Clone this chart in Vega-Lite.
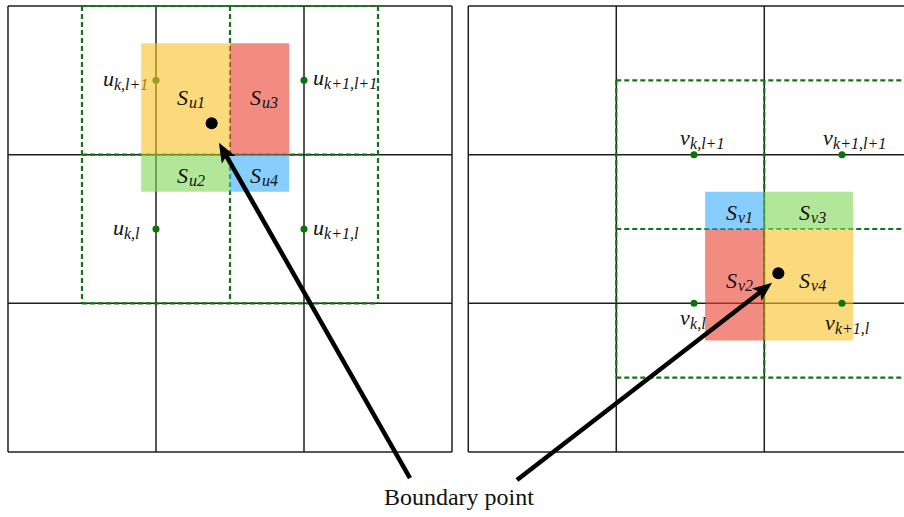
{
  "$schema": "https://vega.github.io/schema/vega-lite/v6.json",
  "width": 904,
  "height": 517,
  "autosize": {"type": "fit", "contains": "padding"},
  "padding": 0,
  "background": "white",
  "config": {"view": {"stroke": null}},
  "datasets": {
    "grid": [
      {"x": 0, "y": 0, "x2": 3, "y2": 0},
      {"x": 0, "y": 3, "x2": 3, "y2": 3},
      {"x": 0, "y": 0, "x2": 0, "y2": 3},
      {"x": 3, "y": 0, "x2": 3, "y2": 3},
      {"x": 1, "y": 0, "x2": 1, "y2": 3},
      {"x": 2, "y": 0, "x2": 2, "y2": 3},
      {"x": 0, "y": 1, "x2": 3, "y2": 1},
      {"x": 0, "y": 2, "x2": 3, "y2": 2},
      {"x": 3.11, "y": 0, "x2": 6.11, "y2": 0},
      {"x": 3.11, "y": 3, "x2": 6.11, "y2": 3},
      {"x": 3.11, "y": 0, "x2": 3.11, "y2": 3},
      {"x": 4.11, "y": 0, "x2": 4.11, "y2": 3},
      {"x": 5.11, "y": 0, "x2": 5.11, "y2": 3},
      {"x": 3.11, "y": 1, "x2": 6.11, "y2": 1},
      {"x": 3.11, "y": 2, "x2": 6.11, "y2": 2}
    ],
    "dashed": [
      {"x": 0.5, "y": 0, "x2": 0.5, "y2": 2},
      {"x": 1.5, "y": 0, "x2": 1.5, "y2": 2},
      {"x": 2.5, "y": 0, "x2": 2.5, "y2": 2},
      {"x": 0.5, "y": 0, "x2": 2.5, "y2": 0},
      {"x": 0.5, "y": 1, "x2": 2.5, "y2": 1},
      {"x": 0.5, "y": 2, "x2": 2.5, "y2": 2},
      {"x": 4.11, "y": 0.5, "x2": 4.11, "y2": 2.5},
      {"x": 5.11, "y": 0.5, "x2": 5.11, "y2": 2.5},
      {"x": 6.11, "y": 0.5, "x2": 6.11, "y2": 2.5},
      {"x": 4.11, "y": 0.5, "x2": 6.11, "y2": 0.5},
      {"x": 4.11, "y": 1.5, "x2": 6.11, "y2": 1.5},
      {"x": 4.11, "y": 2.5, "x2": 6.11, "y2": 2.5}
    ],
    "nodes": [
      {"panel": "u", "x": 1, "y": 0.5},
      {"panel": "u", "x": 2, "y": 0.5},
      {"panel": "u", "x": 1, "y": 1.5},
      {"panel": "u", "x": 2, "y": 1.5},
      {"panel": "v", "x": 4.635, "y": 1},
      {"panel": "v", "x": 5.635, "y": 1},
      {"panel": "v", "x": 4.635, "y": 2},
      {"panel": "v", "x": 5.635, "y": 2}
    ],
    "nodeLabels": [
      {"panel": "u", "main": "u", "sub": "k,l+1", "x": 0.642, "y": 0.538},
      {"panel": "u", "main": "u", "sub": "k+1,l+1", "x": 2.061, "y": 0.531},
      {"panel": "u", "main": "u", "sub": "k,l", "x": 0.709, "y": 1.54},
      {"panel": "u", "main": "u", "sub": "k+1,l", "x": 2.061, "y": 1.54},
      {"panel": "v", "main": "v", "sub": "k,l+1", "x": 4.541, "y": 0.935},
      {"panel": "v", "main": "v", "sub": "k+1,l+1", "x": 5.507, "y": 0.935},
      {"panel": "v", "main": "v", "sub": "k,l", "x": 4.541, "y": 2.146},
      {"panel": "v", "main": "v", "sub": "k+1,l", "x": 5.52, "y": 2.179}
    ],
    "regions": [
      {"region": "Su1", "x": 0.9, "x2": 1.5, "y": 0.25, "y2": 1.0},
      {"region": "Su3", "x": 1.5, "x2": 1.9, "y": 0.25, "y2": 1.0},
      {"region": "Su2", "x": 0.9, "x2": 1.5, "y": 1.0, "y2": 1.25},
      {"region": "Su4", "x": 1.5, "x2": 1.9, "y": 1.0, "y2": 1.25},
      {"region": "Sv1", "x": 4.71, "x2": 5.11, "y": 1.25, "y2": 1.5},
      {"region": "Sv3", "x": 5.11, "x2": 5.71, "y": 1.25, "y2": 1.5},
      {"region": "Sv2", "x": 4.71, "x2": 5.11, "y": 1.5, "y2": 2.25},
      {"region": "Sv4", "x": 5.11, "x2": 5.71, "y": 1.5, "y2": 2.25}
    ],
    "regionLabels": [
      {"main": "S", "sub": "u1", "x": 1.142, "y": 0.666},
      {"main": "S", "sub": "u3", "x": 1.635, "y": 0.666},
      {"main": "S", "sub": "u2", "x": 1.142, "y": 1.191},
      {"main": "S", "sub": "u4", "x": 1.635, "y": 1.191},
      {"main": "S", "sub": "v1", "x": 4.851, "y": 1.439},
      {"main": "S", "sub": "v3", "x": 5.345, "y": 1.439},
      {"main": "S", "sub": "v2", "x": 4.851, "y": 1.897},
      {"main": "S", "sub": "v4", "x": 5.345, "y": 1.897}
    ],
    "boundary": [
      {"x": 1.376, "y": 0.789},
      {"x": 5.205, "y": 1.798}
    ],
    "arrows": [
      {"arrow": "left", "x": 2.716, "y": 3.175, "x2": 1.4625, "y2": 0.9858},
      {"arrow": "right", "x": 3.439, "y": 3.188, "x2": 5.103, "y2": 1.908}
    ],
    "caption": [
      {"text": "Boundary point", "x": 3.047, "y": 3.356}
    ]
  },
  "layer": [
    {
      "data": {"name": "grid"},
      "mark": {"type": "rule", "color": "#1e1e1e", "strokeWidth": 1.5, "clip": true},
      "encoding": {
        "x": {"field": "x", "type": "quantitative", "axis": null, "scale": {"domain": [-0.054, 6.054], "nice": false, "zero": false}},
        "x2": {"field": "x2"},
        "y": {"field": "y", "type": "quantitative", "axis": null, "scale": {"domain": [-0.0404, 3.4372], "nice": false, "zero": false, "reverse": true}},
        "y2": {"field": "y2"}
      }
    },
    {
      "data": {"name": "dashed"},
      "mark": {"type": "rule", "color": "#167316", "strokeWidth": 2.2, "strokeDash": [5, 3], "clip": true},
      "encoding": {
        "x": {"field": "x", "type": "quantitative", "axis": null, "scale": {"domain": [-0.054, 6.054], "nice": false, "zero": false}},
        "x2": {"field": "x2"},
        "y": {"field": "y", "type": "quantitative", "axis": null, "scale": {"domain": [-0.0404, 3.4372], "nice": false, "zero": false, "reverse": true}},
        "y2": {"field": "y2"}
      }
    },
    {
      "data": {"name": "nodes"},
      "transform": [{"filter": "datum.panel === 'u'"}],
      "mark": {"type": "point", "filled": true, "shape": "circle", "color": "#0b730b", "size": 50, "opacity": 1},
      "encoding": {
        "x": {"field": "x", "type": "quantitative", "axis": null, "scale": {"domain": [-0.054, 6.054], "nice": false, "zero": false}},
        "y": {"field": "y", "type": "quantitative", "axis": null, "scale": {"domain": [-0.0404, 3.4372], "nice": false, "zero": false, "reverse": true}}
      }
    },
    {
      "data": {"name": "nodeLabels"},
      "transform": [{"filter": "datum.panel === 'u'"}],
      "mark": {"type": "text", "font": "Liberation Serif", "fontStyle": "italic", "fontSize": 22, "align": "left", "baseline": "alphabetic", "color": "#111"},
      "encoding": {
        "x": {"field": "x", "type": "quantitative", "axis": null, "scale": {"domain": [-0.054, 6.054], "nice": false, "zero": false}},
        "y": {"field": "y", "type": "quantitative", "axis": null, "scale": {"domain": [-0.0404, 3.4372], "nice": false, "zero": false, "reverse": true}},
        "text": {"field": "main"}
      }
    },
    {
      "data": {"name": "nodeLabels"},
      "transform": [{"filter": "datum.panel === 'u'"}],
      "mark": {"type": "text", "font": "Liberation Serif", "fontStyle": "italic", "fontSize": 16, "align": "left", "baseline": "alphabetic", "dx": 11, "dy": 4, "color": "#111"},
      "encoding": {
        "x": {"field": "x", "type": "quantitative", "axis": null, "scale": {"domain": [-0.054, 6.054], "nice": false, "zero": false}},
        "y": {"field": "y", "type": "quantitative", "axis": null, "scale": {"domain": [-0.0404, 3.4372], "nice": false, "zero": false, "reverse": true}},
        "text": {"field": "sub"}
      }
    },
    {
      "data": {"name": "regions"},
      "mark": {"type": "rect", "opacity": 0.6, "stroke": null},
      "encoding": {
        "x": {"field": "x", "type": "quantitative", "axis": null, "scale": {"domain": [-0.054, 6.054], "nice": false, "zero": false}},
        "x2": {"field": "x2"},
        "y": {"field": "y", "type": "quantitative", "axis": null, "scale": {"domain": [-0.0404, 3.4372], "nice": false, "zero": false, "reverse": true}},
        "y2": {"field": "y2"},
        "color": {
          "field": "region",
          "type": "nominal",
          "legend": null,
          "scale": {
            "domain": ["Su1", "Su3", "Su2", "Su4", "Sv1", "Sv3", "Sv2", "Sv4"],
            "range": ["#f8c026", "#eb3f2b", "#7fd553", "#37adff", "#37adff", "#7fd553", "#eb3f2b", "#f8c026"]
          }
        }
      }
    },
    {
      "data": {"name": "nodes"},
      "transform": [{"filter": "datum.panel === 'v'"}],
      "mark": {"type": "point", "filled": true, "shape": "circle", "color": "#0b730b", "size": 50, "opacity": 1},
      "encoding": {
        "x": {"field": "x", "type": "quantitative", "axis": null, "scale": {"domain": [-0.054, 6.054], "nice": false, "zero": false}},
        "y": {"field": "y", "type": "quantitative", "axis": null, "scale": {"domain": [-0.0404, 3.4372], "nice": false, "zero": false, "reverse": true}}
      }
    },
    {
      "data": {"name": "nodeLabels"},
      "transform": [{"filter": "datum.panel === 'v'"}],
      "mark": {"type": "text", "font": "Liberation Serif", "fontStyle": "italic", "fontSize": 22, "align": "left", "baseline": "alphabetic", "color": "#111"},
      "encoding": {
        "x": {"field": "x", "type": "quantitative", "axis": null, "scale": {"domain": [-0.054, 6.054], "nice": false, "zero": false}},
        "y": {"field": "y", "type": "quantitative", "axis": null, "scale": {"domain": [-0.0404, 3.4372], "nice": false, "zero": false, "reverse": true}},
        "text": {"field": "main"}
      }
    },
    {
      "data": {"name": "nodeLabels"},
      "transform": [{"filter": "datum.panel === 'v'"}],
      "mark": {"type": "text", "font": "Liberation Serif", "fontStyle": "italic", "fontSize": 16, "align": "left", "baseline": "alphabetic", "dx": 10, "dy": 4, "color": "#111"},
      "encoding": {
        "x": {"field": "x", "type": "quantitative", "axis": null, "scale": {"domain": [-0.054, 6.054], "nice": false, "zero": false}},
        "y": {"field": "y", "type": "quantitative", "axis": null, "scale": {"domain": [-0.0404, 3.4372], "nice": false, "zero": false, "reverse": true}},
        "text": {"field": "sub"}
      }
    },
    {
      "data": {"name": "regionLabels"},
      "mark": {"type": "text", "font": "Liberation Serif", "fontStyle": "italic", "fontSize": 22, "align": "left", "baseline": "alphabetic", "color": "#111"},
      "encoding": {
        "x": {"field": "x", "type": "quantitative", "axis": null, "scale": {"domain": [-0.054, 6.054], "nice": false, "zero": false}},
        "y": {"field": "y", "type": "quantitative", "axis": null, "scale": {"domain": [-0.0404, 3.4372], "nice": false, "zero": false, "reverse": true}},
        "text": {"field": "main"}
      }
    },
    {
      "data": {"name": "regionLabels"},
      "mark": {"type": "text", "font": "Liberation Serif", "fontStyle": "italic", "fontSize": 16, "align": "left", "baseline": "alphabetic", "dx": 12, "dy": 3, "color": "#111"},
      "encoding": {
        "x": {"field": "x", "type": "quantitative", "axis": null, "scale": {"domain": [-0.054, 6.054], "nice": false, "zero": false}},
        "y": {"field": "y", "type": "quantitative", "axis": null, "scale": {"domain": [-0.0404, 3.4372], "nice": false, "zero": false, "reverse": true}},
        "text": {"field": "sub"}
      }
    },
    {
      "data": {"name": "boundary"},
      "mark": {"type": "point", "filled": true, "shape": "circle", "color": "#000", "size": 145, "opacity": 1},
      "encoding": {
        "x": {"field": "x", "type": "quantitative", "axis": null, "scale": {"domain": [-0.054, 6.054], "nice": false, "zero": false}},
        "y": {"field": "y", "type": "quantitative", "axis": null, "scale": {"domain": [-0.0404, 3.4372], "nice": false, "zero": false, "reverse": true}}
      }
    },
    {
      "data": {"name": "arrows"},
      "mark": {"type": "rule", "color": "#000", "strokeWidth": 4.5, "strokeCap": "butt"},
      "encoding": {
        "x": {"field": "x", "type": "quantitative", "axis": null, "scale": {"domain": [-0.054, 6.054], "nice": false, "zero": false}},
        "x2": {"field": "x2"},
        "y": {"field": "y", "type": "quantitative", "axis": null, "scale": {"domain": [-0.0404, 3.4372], "nice": false, "zero": false, "reverse": true}},
        "y2": {"field": "y2"}
      }
    },
    {
      "data": {"name": "arrows"},
      "transform": [{"filter": "datum.arrow === 'left'"}],
      "mark": {"type": "point", "filled": true, "opacity": 1, "color": "#000", "shape": "M0,-1L0.7,0.75L0,0.35L-0.7,0.75Z", "size": 500, "angle": 330.3},
      "encoding": {
        "x": {"field": "x2", "type": "quantitative", "axis": null, "scale": {"domain": [-0.054, 6.054], "nice": false, "zero": false}},
        "y": {"field": "y2", "type": "quantitative", "axis": null, "scale": {"domain": [-0.0404, 3.4372], "nice": false, "zero": false, "reverse": true}}
      }
    },
    {
      "data": {"name": "arrows"},
      "transform": [{"filter": "datum.arrow === 'right'"}],
      "mark": {"type": "point", "filled": true, "opacity": 1, "color": "#000", "shape": "M0,-1L0.7,0.75L0,0.35L-0.7,0.75Z", "size": 500, "angle": 52.3},
      "encoding": {
        "x": {"field": "x2", "type": "quantitative", "axis": null, "scale": {"domain": [-0.054, 6.054], "nice": false, "zero": false}},
        "y": {"field": "y2", "type": "quantitative", "axis": null, "scale": {"domain": [-0.0404, 3.4372], "nice": false, "zero": false, "reverse": true}}
      }
    },
    {
      "data": {"name": "caption"},
      "mark": {"type": "text", "font": "Liberation Serif", "fontSize": 24, "align": "center", "baseline": "alphabetic", "color": "#111"},
      "encoding": {
        "x": {"field": "x", "type": "quantitative", "axis": null, "scale": {"domain": [-0.054, 6.054], "nice": false, "zero": false}},
        "y": {"field": "y", "type": "quantitative", "axis": null, "scale": {"domain": [-0.0404, 3.4372], "nice": false, "zero": false, "reverse": true}},
        "text": {"field": "text"}
      }
    }
  ]
}
